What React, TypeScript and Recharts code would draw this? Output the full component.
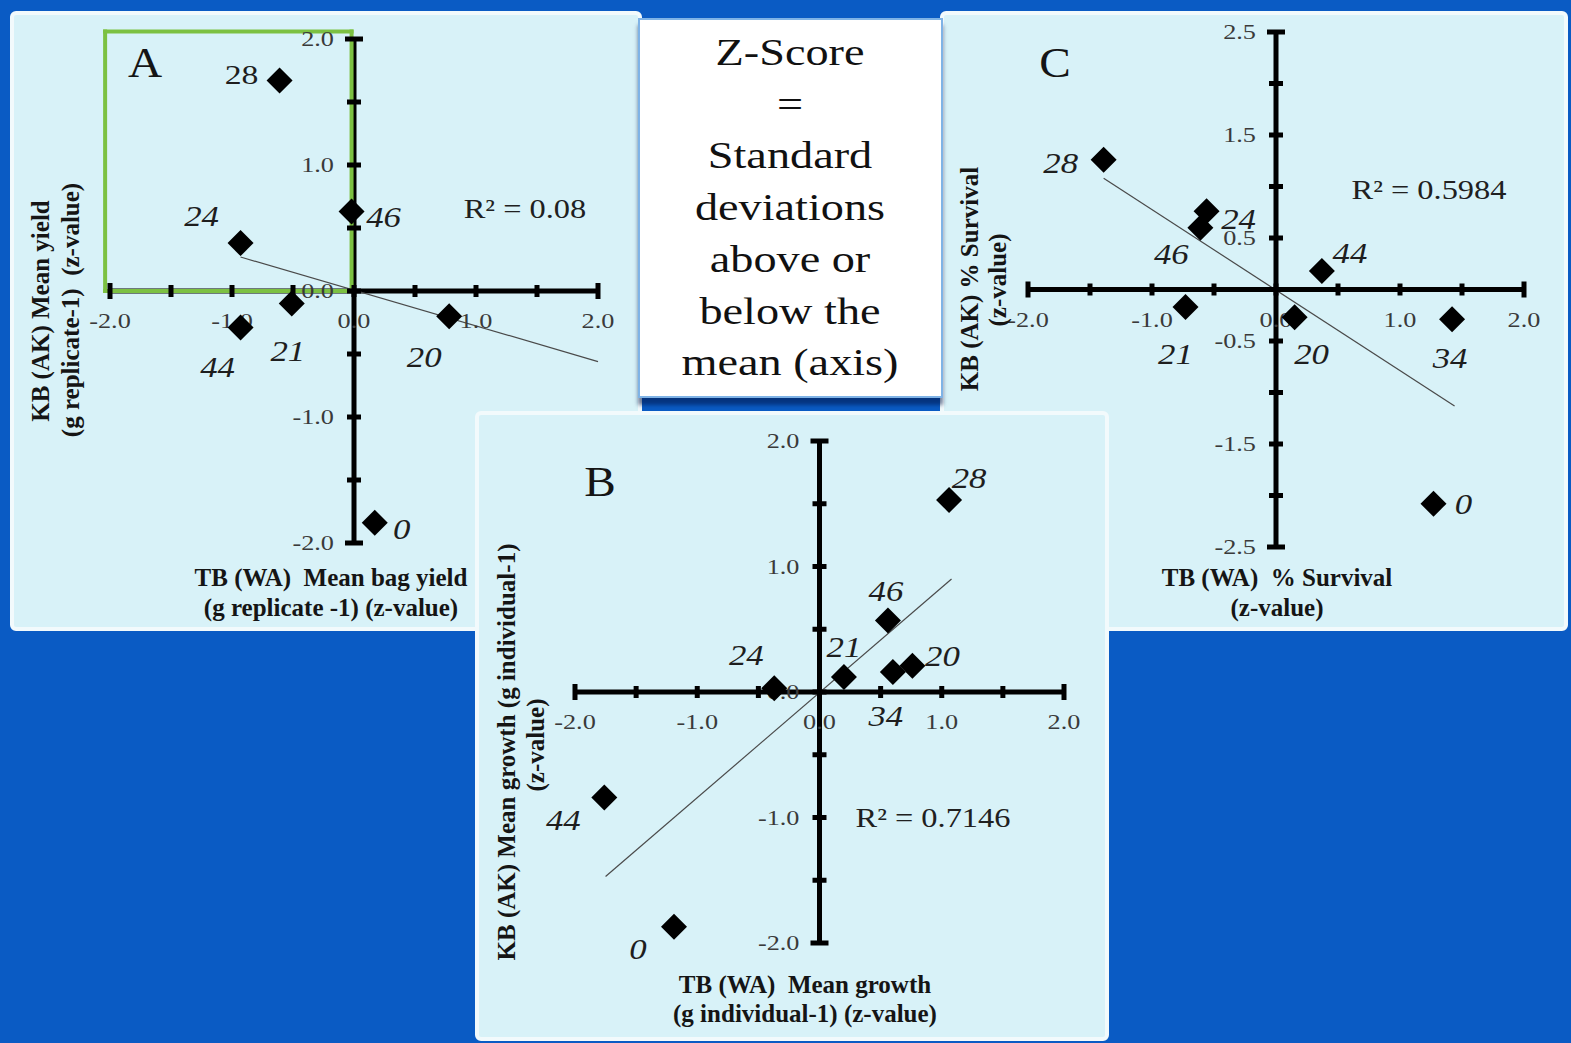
import React from "react";
import {
  ScatterChart,
  Scatter,
  XAxis,
  YAxis,
  ReferenceLine,
  ReferenceDot,
} from "recharts";

const FONT = '"Liberation Serif", "Times New Roman", serif';
const BORDER = 4;

// ---- data (z-values) ----
// A: mean bag yield
const namesA = ["28", "46", "24", "21", "44", "20", "0"];
const xA = [-0.61, -0.02, -0.93, -0.51, -0.93, 0.78, 0.17];
const yA = [1.67, 0.63, 0.38, -0.1, -0.29, -0.2, -1.84];
const trendA = [{ x: -0.93, y: 0.27 }, { x: 2.0, y: -0.56 }];
const highlightA = { x1: -2.04, x2: -0.02, y1: 0, y2: 2.06 };

// B: mean growth
const namesB = ["28", "46", "21", "24", "34", "20", "44", "0"];
const xB = [1.06, 0.56, 0.2, -0.37, 0.6, 0.76, -1.76, -1.19];
const yB = [1.53, 0.57, 0.12, 0.03, 0.16, 0.21, -0.84, -1.87];
const trendB = [{ x: -1.75, y: -1.47 }, { x: 1.08, y: 0.9 }];

// C: % survival
const namesC = ["28", "24", "46", "44", "21", "20", "34", "0"];
const xC = [-1.39, -0.56, -0.61, 0.37, -0.73, 0.15, 1.42, 1.27];
const yC = [1.26, 0.76, 0.6, 0.18, -0.17, -0.27, -0.29, -2.08];
const trendC = [{ x: -1.39, y: 1.08 }, { x: 1.44, y: -1.13 }];

// ticks
const xTicks = [-2, -1.5, -1, -0.5, 0, 0.5, 1, 1.5, 2];
const xTickLabels = [-2, -1, 0, 1, 2];
const yTicksAB = [-2, -1.5, -1, -0.5, 0, 0.5, 1, 1.5, 2];
const yTickLabelsAB = [-2, -1, 0, 1, 2];
const yTicksC = [-2.5, -2, -1.5, -1, -0.5, 0, 0.5, 1, 1.5, 2, 2.5];
const yTickLabelsC = [-2.5, -1.5, -0.5, 0.5, 1.5, 2.5];

const boxLines = [
  "Z-Score",
  "=",
  "Standard",
  "deviations",
  "above or",
  "below the",
  "mean (axis)",
];

// label placement around each point (px from the diamond centre)
const offA: Record<string, [number, number]> = {
  "28": [-38, -5], "46": [32, 5], "24": [-39, -27], "21": [-4, 47],
  "44": [-23, 40], "20": [-25, 41], "0": [27, 6],
};
const offB: Record<string, [number, number]> = {
  "28": [20, -22], "46": [-2, -29], "21": [0, -30], "24": [-28, -33],
  "34": [-7, 44], "20": [30, -10], "44": [-41, 23], "0": [-36, 22],
};
const offC: Record<string, [number, number]> = {
  "28": [-43, 3], "24": [32, 8], "46": [-29, 26], "44": [28, -18],
  "21": [-10, 47], "20": [17, 37], "34": [-2, 39], "0": [30, 0],
};

const toPoints = (names: string[], xs: number[], ys: number[]) =>
  names.map((name, i) => ({ name, x: xs[i], y: ys[i] }));

interface TextItem { text: string; x: number; y: number }

interface PanelCfg {
  rect: { left: number; top: number; w: number; h: number };
  plot: { x0: number; x1: number; y0: number; y1: number };
  yDomain: [number, number];
  yTicks: number[];
  yLabels: number[];
  points: { name: string; x: number; y: number }[];
  offsets: Record<string, [number, number]>;
  upright?: string[];
  trend: { x: number; y: number }[];
  highlight?: { x1: number; x2: number; y1: number; y2: number };
  letter: TextItem;
  r2: TextItem;
  xTitle: TextItem[];
  yTitle: TextItem[];
}

const Txt = ({
  t, size, bold, italic, sx = 1, rotate, color = "#151515",
}: {
  t: TextItem; size: number; bold?: boolean; italic?: boolean; sx?: number; rotate?: boolean; color?: string;
}) => (
  <div
    style={{
      position: "absolute",
      left: t.x,
      top: t.y,
      transform: `translate(-50%,-50%)${rotate ? " rotate(-90deg)" : ""} scaleX(${sx})`,
      whiteSpace: "pre",
      fontFamily: FONT,
      fontSize: size,
      fontWeight: bold ? 700 : 400,
      fontStyle: italic ? "italic" : "normal",
      color,
      lineHeight: 1,
    }}
  >
    {t.text}
  </div>
);

const xTickMark = (end: boolean) => (p: any) => (
  <rect x={p.cx - 2.5} y={p.cy - (end ? 8 : 6)} width={5} height={end ? 16 : 12} fill="#000" />
);
const yTickMark = (end: boolean) => (p: any) => (
  <rect x={p.cx - (end ? 9 : 7)} y={p.cy - 2.5} width={end ? 18 : 14} height={5} fill="#000" />
);
const xTickLabel = (v: number) => (p: any) => (
  <text
    transform={`translate(${p.cx},${p.cy + 30}) scale(1.25,1)`}
    textAnchor="middle"
    dominantBaseline="central"
    fontFamily={FONT}
    fontSize={21}
    fill="#3a3a3a"
  >
    {v.toFixed(1)}
  </text>
);
const yTickLabel = (v: number) => (p: any) => (
  <text
    transform={`translate(${p.cx - 20},${p.cy}) scale(1.25,1)`}
    textAnchor="end"
    dominantBaseline="central"
    fontFamily={FONT}
    fontSize={21}
    fill="#3a3a3a"
  >
    {v.toFixed(1)}
  </text>
);

const diamond = (offsets: Record<string, [number, number]>, upright: string[]) => (p: any) => {
  const { cx, cy } = p;
  const name = p.payload?.name ?? p.name;
  const o = offsets[name] || [0, 0];
  const up = upright.includes(name);
  return (
    <g>
      <path d={`M${cx},${cy - 13}L${cx + 13},${cy}L${cx},${cy + 13}L${cx - 13},${cy}Z`} fill="#000" />
      <text
        transform={`translate(${cx + o[0]},${cy + o[1]}) scale(${up ? 1.25 : 1.2},1)`}
        textAnchor="middle"
        dominantBaseline="central"
        fontFamily={FONT}
        fontSize={up ? 27 : 29}
        fontStyle={up ? "normal" : "italic"}
        fill="#1e1e1e"
      >
        {name}
      </text>
    </g>
  );
};

function Panel({ cfg }: { cfg: PanelCfg }) {
  const { rect, plot } = cfg;
  const margin = {
    left: plot.x0 - rect.left - BORDER,
    right: rect.left + rect.w - BORDER - plot.x1,
    top: plot.y0 - rect.top - BORDER,
    bottom: rect.top + rect.h - BORDER - plot.y1,
  };
  const yEnd = (v: number) => v === cfg.yDomain[0] || v === cfg.yDomain[1];
  const h = cfg.highlight;
  const boxSides = h
    ? [
        [{ x: h.x1, y: h.y1 }, { x: h.x2, y: h.y1 }],
        [{ x: h.x2, y: h.y1 }, { x: h.x2, y: h.y2 }],
        [{ x: h.x2, y: h.y2 }, { x: h.x1, y: h.y2 }],
        [{ x: h.x1, y: h.y2 }, { x: h.x1, y: h.y1 }],
      ]
    : [];
  return (
    <div
      style={{
        position: "absolute",
        left: rect.left,
        top: rect.top,
        width: rect.w,
        height: rect.h,
        boxSizing: "border-box",
        border: `${BORDER}px solid #f2fafc`,
        borderRadius: 6,
        background: "#d8f2f8",
        overflow: "hidden",
      }}
    >
      <div style={{ position: "absolute", left: -(rect.left + BORDER), top: -(rect.top + BORDER), width: 1571, height: 1043 }}>
        <div style={{ position: "absolute", left: rect.left + BORDER, top: rect.top + BORDER }}>
          <ScatterChart width={rect.w - 2 * BORDER} height={rect.h - 2 * BORDER} margin={margin}>
            <XAxis type="number" dataKey="x" domain={[-2, 2]} hide />
            <YAxis type="number" dataKey="y" domain={cfg.yDomain} hide />
            {xTickLabels.map((v) => (
              <ReferenceDot key={`xl${v}`} x={v} y={0} r={0} shape={xTickLabel(v)} />
            ))}
            {cfg.yLabels.map((v) => (
              <ReferenceDot key={`yl${v}`} x={0} y={v} r={0} shape={yTickLabel(v)} />
            ))}
            <ReferenceLine y={0} stroke="#000" strokeWidth={5} />
            <ReferenceLine x={0} stroke="#000" strokeWidth={5} />
            {boxSides.map((seg, i) => (
              <ReferenceLine
                key={`hl${i}`}
                segment={seg}
                stroke="#7cc142"
                strokeWidth={4}
                strokeLinecap="square"
                ifOverflow="visible"
              />
            ))}
            {xTicks.map((v) => (
              <ReferenceDot key={`xt${v}`} x={v} y={0} r={0} shape={xTickMark(Math.abs(v) === 2)} />
            ))}
            {cfg.yTicks.map((v) => (
              <ReferenceDot key={`yt${v}`} x={0} y={v} r={0} shape={yTickMark(yEnd(v))} />
            ))}
            <ReferenceLine segment={cfg.trend} stroke="#4a4a4a" strokeWidth={1.2} />
            <Scatter
              data={cfg.points}
              isAnimationActive={false}
              shape={diamond(cfg.offsets, cfg.upright || [])}
            />
          </ScatterChart>
        </div>
        <Txt t={cfg.letter} size={43} sx={1.1} />
        <Txt t={cfg.r2} size={27} sx={1.2} color="#202020" />
        {cfg.xTitle.map((t) => (
          <Txt key={t.text} t={t} size={25} bold />
        ))}
        {cfg.yTitle.map((t) => (
          <Txt key={t.text} t={t} size={25} bold rotate />
        ))}
      </div>
    </div>
  );
}

const panelA: PanelCfg = {
  rect: { left: 10, top: 11, w: 632, h: 620 },
  plot: { x0: 110, x1: 598, y0: 39, y1: 543 },
  yDomain: [-2, 2],
  yTicks: yTicksAB,
  yLabels: yTickLabelsAB,
  points: toPoints(namesA, xA, yA),
  offsets: offA,
  upright: ["28"],
  trend: trendA,
  highlight: highlightA,
  letter: { text: "A", x: 145, y: 62 },
  r2: { text: "R² = 0.08", x: 525, y: 209 },
  xTitle: [
    { text: "TB (WA)  Mean bag yield", x: 331, y: 577 },
    { text: "(g replicate -1) (z-value)", x: 331, y: 607 },
  ],
  yTitle: [
    { text: "KB (AK) Mean yield", x: 40, y: 311 },
    { text: "(g replicate-1)  (z-value)", x: 70, y: 310 },
  ],
};

const panelB: PanelCfg = {
  rect: { left: 475, top: 411, w: 634, h: 630 },
  plot: { x0: 575, x1: 1064, y0: 441, y1: 943 },
  yDomain: [-2, 2],
  yTicks: yTicksAB,
  yLabels: yTickLabelsAB,
  points: toPoints(namesB, xB, yB),
  offsets: offB,
  trend: trendB,
  letter: { text: "B", x: 600, y: 481 },
  r2: { text: "R² = 0.7146", x: 933, y: 818 },
  xTitle: [
    { text: "TB (WA)  Mean growth", x: 805, y: 984 },
    { text: "(g individual-1) (z-value)", x: 805, y: 1013 },
  ],
  yTitle: [
    { text: "KB (AK) Mean growth (g individual-1)", x: 506, y: 752 },
    { text: "(z-value)", x: 535, y: 745 },
  ],
};

const panelC: PanelCfg = {
  rect: { left: 940, top: 11, w: 628, h: 620 },
  plot: { x0: 1028, x1: 1524, y0: 32, y1: 547 },
  yDomain: [-2.5, 2.5],
  yTicks: yTicksC,
  yLabels: yTickLabelsC,
  points: toPoints(namesC, xC, yC),
  offsets: offC,
  trend: trendC,
  letter: { text: "C", x: 1055, y: 62 },
  r2: { text: "R² = 0.5984", x: 1429, y: 190 },
  xTitle: [
    { text: "TB (WA)  % Survival", x: 1277, y: 577 },
    { text: "(z-value)", x: 1277, y: 607 },
  ],
  yTitle: [
    { text: "KB (AK) % Survival", x: 969, y: 279 },
    { text: "(z-value)", x: 997, y: 280 },
  ],
};

export default function App() {
  return (
    <div
      style={{
        position: "absolute",
        left: 0,
        top: 0,
        width: 1571,
        height: 1043,
        background: "#0a5bc4",
        overflow: "hidden",
      }}
    >
      <Panel cfg={panelA} />
      <Panel cfg={panelC} />
      <div
        style={{
          position: "absolute",
          left: 638,
          top: 18,
          width: 305,
          height: 380,
          boxSizing: "border-box",
          background: "#fff",
          border: "2px solid #7fb3e6",
          boxShadow: "0 7px 4px rgba(0,20,70,0.55)",
        }}
      />
      {boxLines.map((line, i) => (
        <Txt key={line} t={{ text: line, x: 790, y: 52 + i * 51.7 }} size={37} sx={1.25} color="#111" />
      ))}
      <Panel cfg={panelB} />
    </div>
  );
}
